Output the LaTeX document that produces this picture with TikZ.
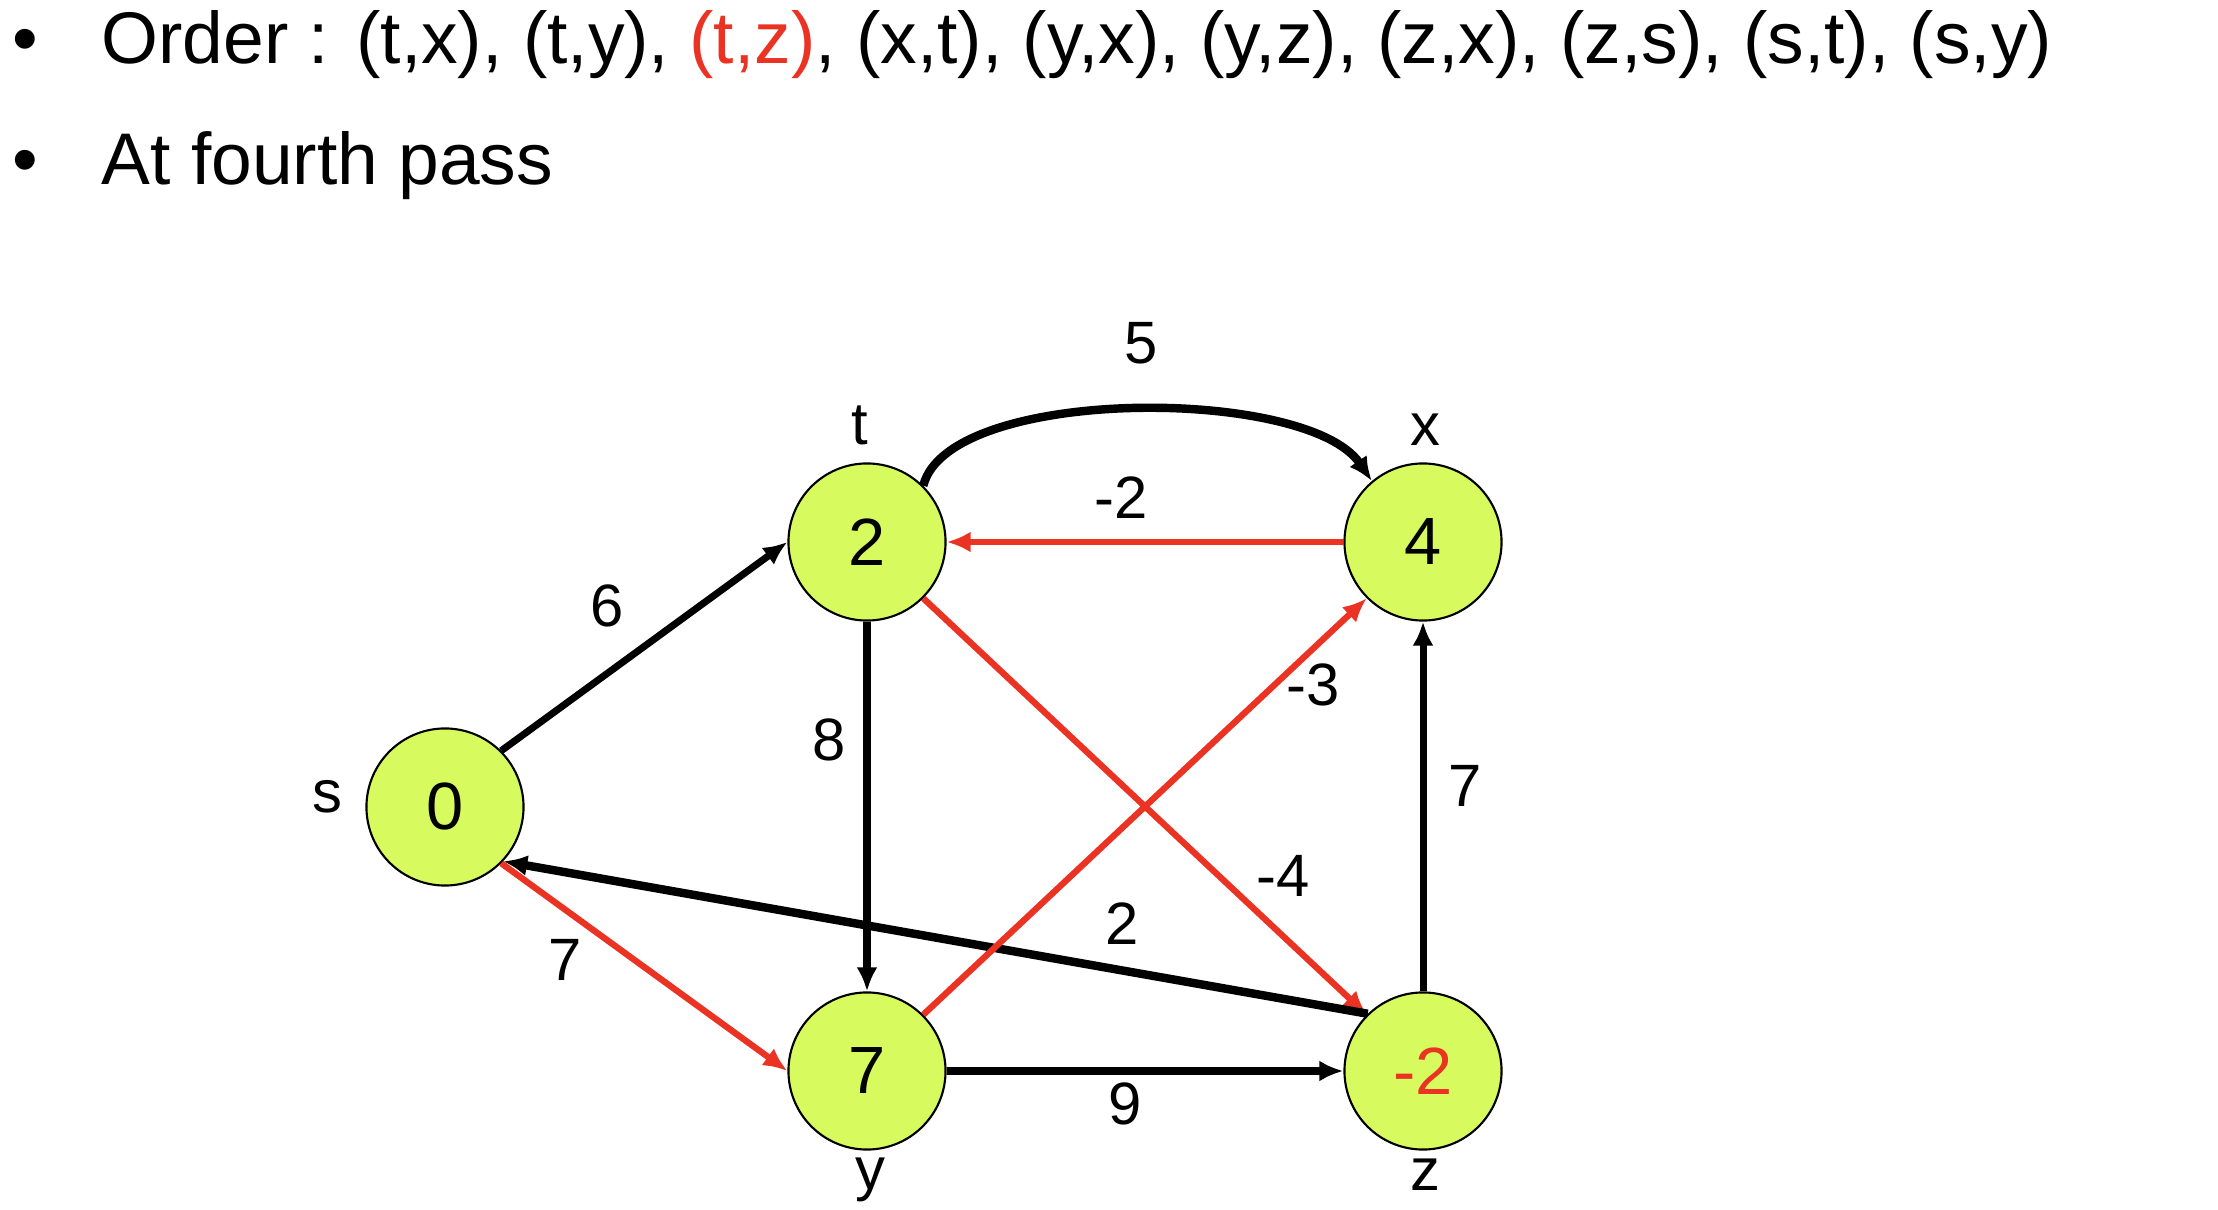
\documentclass[tikz,border=0pt]{standalone}
\usepackage{fontspec}
\setmainfont{Liberation Sans}
\usetikzlibrary{arrows.meta}
\definecolor{nodegreen}{RGB}{215,250,94}
\definecolor{relaxred}{RGB}{235,51,36}
\tikzset{
    vert/.style={circle, draw, line width=0.6pt, fill=nodegreen, minimum size=1.57cm,
        inner sep=0pt, font=\fontsize{19}{22}\selectfont},
    vname/.style={font=\fontsize{17}{20}\selectfont},
    wt/.style={font=\fontsize{17}{20}\selectfont, inner sep=0pt},
    head/.style={anchor=base west, font=\fontsize{20.8}{24}\selectfont, inner sep=0pt},
    edge/.style={line width=2pt, -{Latex[length=0.24cm,width=0.21cm]}},
    redge/.style={edge, line width=1.8pt, relaxred}
}
\begin{document}
\begin{tikzpicture}[x=0.01cm, y=-0.01cm]
        \useasboundingbox (0,0) rectangle (2218,1210);
        % header lines
        \node [head] (b1) at (12,64) {\textbullet};
        \node [head] (order) at (101,64)
            {Order : (t,x), (t,y), \textcolor{relaxred}{(t,z)}, (x,t), (y,x), (y,z), (z,x), (z,s), (s,t), (s,y)};
        \node [head] (b2) at (12,185) {\textbullet};
        \node [head] (pass) at (101,185) {At fourth pass};
        % vertices
        \node [vert] (s) at (445,807) {0};
        \node [vert] (t) at (867,542) {2};
        \node [vert] (x) at (1423,542) {4};
        \node [vert] (y) at (867,1071) {7};
        \node [vert] (z) at (1423,1071) {\textcolor{relaxred}{-2}};
        \node [vname] (ls) at (327,797) {s};
        \node [vname] (lt) at (860,425) {t};
        \node [vname] (lx) at (1425,430) {x};
        \node [vname] (ly) at (870,1180) {y};
        \node [vname] (lz) at (1425,1175) {z};
        % edges
        \draw [edge, line width=2.4pt] (t.45) .. controls +(25,-100) and +(-65,-95) .. (x.130);
        \draw [redge] (x.west) -- (t.east);
        \draw [edge] (s.45) -- (t.west);
        \draw [edge] (t.south) -- (y.north);
        \draw [redge] (t.-45) -- (z.135);
        \draw [edge, line width=2.4pt] (z.134) -- (s.-43);
        \draw [redge] (s.-45) -- (y.west);
        \draw [redge] (y.45) -- (x.225);
        \draw [edge] (y.east) -- (z.west);
        \draw [edge] (z.north) -- (x.south);
        % weights
        \node [wt] (w5) at (1141,343) {5};
        \node [wt] (wxt) at (1121,498) {-2};
        \node [wt] (w6) at (607,606) {6};
        \node [wt] (w8) at (829,740) {8};
        \node [wt] (wyx) at (1313,685) {-3};
        \node [wt] (wzx) at (1465,786) {7};
        \node [wt] (wtz) at (1283,876) {-4};
        \node [wt] (wzs) at (1122,924) {2};
        \node [wt] (wsy) at (565,960) {7};
        \node [wt] (w9) at (1125,1104) {9};
    \end{tikzpicture}
\end{document}
